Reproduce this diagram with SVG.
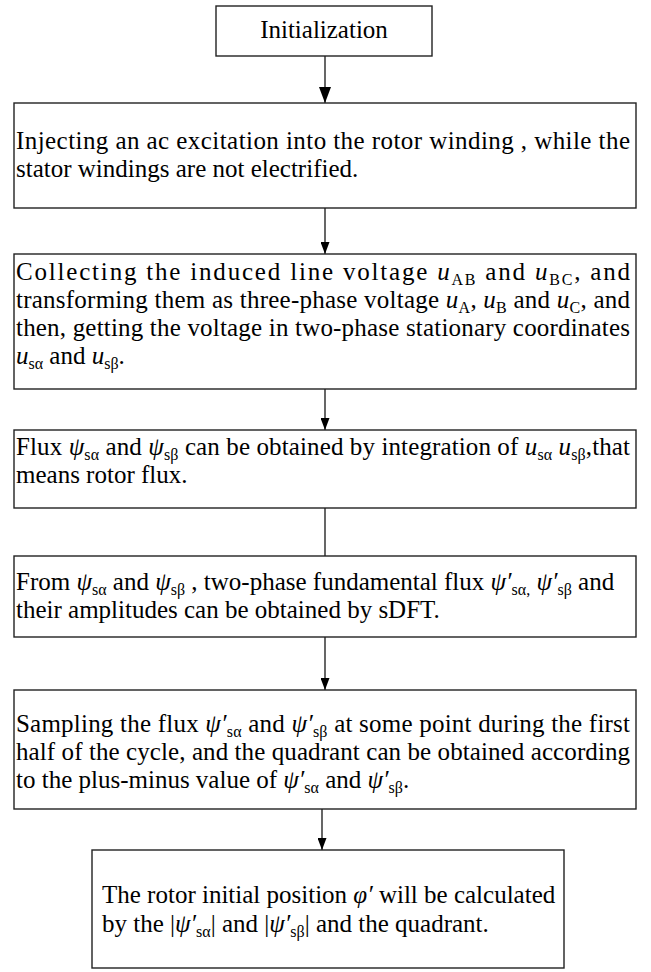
<svg xmlns="http://www.w3.org/2000/svg" width="651" height="972" viewBox="0 0 651 972">
<style>
.box{fill:#fff;stroke:#222;stroke-width:1.4}
.t{font-family:"Liberation Serif","Times New Roman",serif;font-size:25px;fill:#000}
.i{font-style:italic}
.s{font-size:16px}
.c{stroke:#000;stroke-width:1.2;fill:none}
</style>
<defs>
<marker id="ah" markerUnits="userSpaceOnUse" viewBox="0 0 10 10" refX="10" refY="5" markerWidth="12" markerHeight="9" orient="auto" preserveAspectRatio="none">
<path d="M0,0 L10,5 L0,10 z" fill="#000"/>
</marker>
<marker id="ahb" markerUnits="userSpaceOnUse" viewBox="0 0 10 10" refX="10" refY="5" markerWidth="16" markerHeight="12" orient="auto" preserveAspectRatio="none">
<path d="M0,0 L10,5 L0,10 z" fill="#000"/>
</marker>
</defs>
<rect width="651" height="972" fill="#fff"/>

<g id="connectors">
<line class="c" x1="325" y1="56" x2="325" y2="103" stroke-width="2" marker-end="url(#ahb)"/>
<line class="c" x1="325" y1="208" x2="325" y2="254" marker-end="url(#ah)"/>
<line class="c" x1="325" y1="389" x2="325" y2="430" marker-end="url(#ah)"/>
<line class="c" x1="325" y1="508" x2="325" y2="556"/>
<line class="c" x1="325" y1="637" x2="325" y2="690" marker-end="url(#ah)"/>
<line class="c" x1="322" y1="809" x2="322" y2="850" marker-end="url(#ah)"/>
</g>

<g id="init">
<rect class="box" x="216" y="6" width="216" height="50"/>
<text class="t" x="324" y="38" text-anchor="middle">Initialization</text>
</g>

<g id="inject">
<rect class="box" x="14" y="103" width="622" height="105"/>
<text class="t" x="16" y="149" textLength="614">Injecting an ac excitation into the rotor winding , while the</text>
<text class="t" x="16" y="177">stator windings are not electrified.</text>
</g>

<g id="collect">
<rect class="box" x="14" y="254" width="622" height="135"/>
<text class="t" x="16" y="280" textLength="614">Collecting the induced line voltage <tspan class="i">u</tspan><tspan class="s" dy="5">AB</tspan><tspan dy="-5"> and </tspan><tspan class="i">u</tspan><tspan class="s" dy="5">BC</tspan><tspan dy="-5">, and</tspan></text>
<text class="t" x="16" y="308" textLength="614">transforming them as three-phase voltage <tspan class="i">u</tspan><tspan class="s" dy="5">A</tspan><tspan dy="-5">, </tspan><tspan class="i">u</tspan><tspan class="s" dy="5">B</tspan><tspan dy="-5"> and </tspan><tspan class="i">u</tspan><tspan class="s" dy="5">C</tspan><tspan dy="-5">, and</tspan></text>
<text class="t" x="16" y="336" textLength="614">then, getting the voltage in two-phase stationary coordinates</text>
<text class="t" x="16" y="364"><tspan class="i">u</tspan><tspan class="s" dy="5">sα</tspan><tspan dy="-5"> and </tspan><tspan class="i">u</tspan><tspan class="s" dy="5">sβ</tspan><tspan dy="-5">.</tspan></text>
</g>

<g id="flux">
<rect class="box" x="14" y="430" width="622" height="78"/>
<text class="t" x="16" y="455" textLength="614">Flux <tspan class="i">ψ</tspan><tspan class="s" dy="5">sα</tspan><tspan dy="-5"> and </tspan><tspan class="i">ψ</tspan><tspan class="s" dy="5">sβ</tspan><tspan dy="-5"> can be obtained by integration of </tspan><tspan class="i">u</tspan><tspan class="s" dy="5">sα</tspan><tspan dy="-5"> </tspan><tspan class="i">u</tspan><tspan class="s" dy="5">sβ</tspan><tspan dy="-5">,that</tspan></text>
<text class="t" x="16" y="483">means rotor flux.</text>
</g>

<g id="sdft">
<rect class="box" x="14" y="556" width="622" height="81"/>
<text class="t" x="16" y="590">From <tspan class="i">ψ</tspan><tspan class="s" dy="5">sα</tspan><tspan dy="-5"> and </tspan><tspan class="i">ψ</tspan><tspan class="s" dy="5">sβ</tspan><tspan dy="-5"> , two-phase fundamental flux </tspan><tspan class="i">ψ′</tspan><tspan class="s" dy="5">sα,</tspan><tspan dy="-5">  </tspan><tspan class="i">ψ′</tspan><tspan class="s" dy="5">sβ</tspan><tspan dy="-5"> and</tspan></text>
<text class="t" x="16" y="618">their amplitudes can be obtained by sDFT.</text>
</g>

<g id="sampling">
<rect class="box" x="14" y="690" width="622" height="119"/>
<text class="t" x="16" y="732" textLength="614">Sampling the flux <tspan class="i">ψ′</tspan><tspan class="s" dy="5">sα</tspan><tspan dy="-5"> and </tspan><tspan class="i">ψ′</tspan><tspan class="s" dy="5">sβ</tspan><tspan dy="-5"> at some point during the first</tspan></text>
<text class="t" x="16" y="760" textLength="614">half of the cycle, and the quadrant can be obtained according</text>
<text class="t" x="16" y="788">to the plus-minus value of <tspan class="i">ψ′</tspan><tspan class="s" dy="5">sα</tspan><tspan dy="-5"> and </tspan><tspan class="i">ψ′</tspan><tspan class="s" dy="5">sβ</tspan><tspan dy="-5">.</tspan></text>
</g>

<g id="position">
<rect class="box" x="92" y="850" width="472" height="118" stroke="#666" stroke-width="2"/>
<text class="t" x="102" y="903">The rotor initial position <tspan class="i">φ′</tspan> will be calculated</text>
<text class="t" x="102" y="932">by the |<tspan class="i">ψ′</tspan><tspan class="s" dy="5">sα</tspan><tspan dy="-5">| and |</tspan><tspan class="i">ψ′</tspan><tspan class="s" dy="5">sβ</tspan><tspan dy="-5">| and the quadrant.</tspan></text>
</g>
</svg>
